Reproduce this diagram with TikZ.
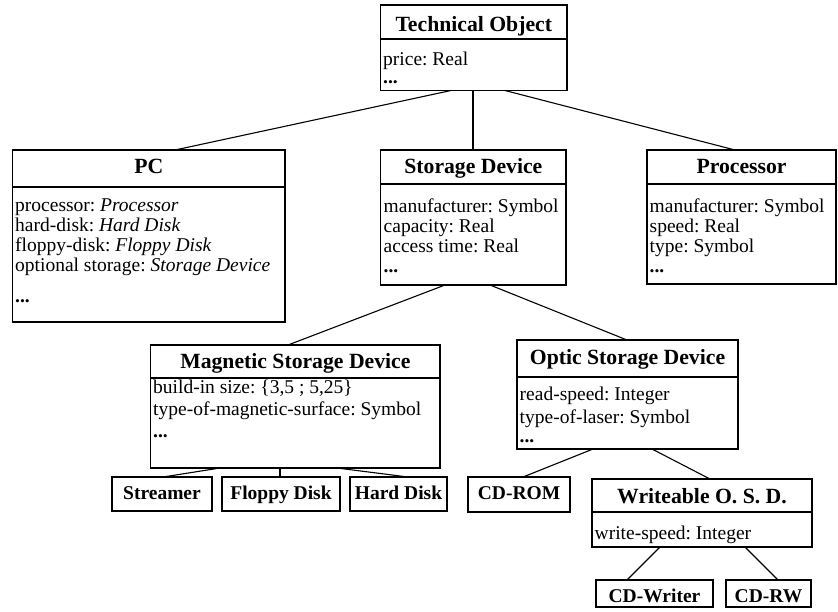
\documentclass[tikz,border=0pt]{standalone}
\usepackage{fontspec}
\setmainfont{Liberation Serif}
\usetikzlibrary{calc}
\frenchspacing
\tikzset{
  box/.style={draw, line width=1.2pt, inner sep=0pt, outer sep=0pt},
  divline/.style={line width=1.2pt},
  conn/.style={line width=1.1pt},
  ctitle/.style={inner sep=0pt, anchor=base, font=\fontsize{21.7}{24}\selectfont\bfseries},
  leaf/.style={inner sep=0pt, anchor=base, font=\fontsize{19.5}{22}\selectfont\bfseries},
  attr/.style={inner sep=0pt, anchor=base west, font=\fontsize{19.5}{20}\selectfont},
}
\begin{document}
\begin{tikzpicture}[x=1pt,y=-1pt]
\useasboundingbox (0,0) rectangle (838,611);

% Technical Object
\node[box, minimum width=186.5pt, minimum height=85.5pt] (to) at (473.75,47.75) {};
\draw[divline] (to.west |- 0,39) -- (to.east |- 0,39);
\node[ctitle] (to-t) at (473.75,31) {Technical Object};
\node[attr] (to-a1) at (383,65) {price: Real};
\node[attr] (to-a2) at (383,83) {\textbf{...}};

% PC
\node[box, minimum width=272.3pt, minimum height=172pt] (pc) at (148.85,236) {};
\draw[divline] (pc.west |- 0,187) -- (pc.east |- 0,187);
\node[ctitle] (pc-t) at (148.85,173) {PC};
\node[attr] (pc-a1) at (15,211) {processor: \textit{Processor}};
\node[attr] (pc-a2) at (15,231) {hard-disk: \textit{Hard Disk}};
\node[attr] (pc-a3) at (15,251) {floppy-disk: \textit{Floppy Disk}};
\node[attr] (pc-a4) at (15,271) {optional storage: \textit{Storage Device}};
\node[attr] (pc-a5) at (15,302) {\textbf{...}};

% Storage Device
\node[box, minimum width=185.3pt, minimum height=135pt] (sd) at (473.35,217.5) {};
\draw[divline] (sd.west |- 0,184) -- (sd.east |- 0,184);
\node[ctitle] (sd-t) at (473.35,173) {Storage Device};
\node[attr] (sd-a1) at (383.5,212) {manufacturer: Symbol};
\node[attr] (sd-a2) at (383.5,232) {capacity: Real};
\node[attr] (sd-a3) at (383.5,252) {access time: Real};
\node[attr] (sd-a4) at (383.5,272) {\textbf{...}};

% Processor
\node[box, minimum width=189pt, minimum height=134pt] (pr) at (741.5,217) {};
\draw[divline] (pr.west |- 0,184) -- (pr.east |- 0,184);
\node[ctitle] (pr-t) at (741.5,173) {Processor};
\node[attr] (pr-a1) at (649.5,212) {manufacturer: Symbol};
\node[attr] (pr-a2) at (649.5,232) {speed: Real};
\node[attr] (pr-a3) at (649.5,252) {type: Symbol};
\node[attr] (pr-a4) at (649.5,272) {\textbf{...}};

% Magnetic Storage Device
\node[box, minimum width=289.3pt, minimum height=123pt] (msd) at (295.35,406.5) {};
\draw[divline] (msd.west |- 0,378) -- (msd.east |- 0,378);
\node[ctitle] (msd-t) at (295.35,368) {Magnetic Storage Device};
\node[attr] (msd-a1) at (153,393) {build-in size: \{3,5 ; 5,25\}};
\node[attr] (msd-a2) at (153,415) {type-of-magnetic-surface: Symbol};
\node[attr] (msd-a3) at (153,437) {\textbf{...}};

% Optic Storage Device
\node[box, minimum width=221pt, minimum height=109pt] (osd) at (627.5,394.5) {};
\draw[divline] (osd.west |- 0,377) -- (osd.east |- 0,377);
\node[ctitle] (osd-t) at (627.5,364) {Optic Storage Device};
\node[attr] (osd-a1) at (519.5,400) {read-speed: Integer};
\node[attr] (osd-a2) at (519.5,423) {type-of-laser: Symbol};
\node[attr] (osd-a3) at (519.5,442) {\textbf{...}};

% Writeable O. S. D.
\node[box, minimum width=220pt, minimum height=68pt] (wosd) at (702,513) {};
\draw[divline] (wosd.west |- 0,512) -- (wosd.east |- 0,512);
\node[ctitle] (wosd-t) at (702,503) {Writeable O. S. D.};
\node[attr] (wosd-a1) at (594.5,539) {write-speed: Integer};

% leaves
\node[box, minimum width=100pt, minimum height=34pt] (st) at (162,494) {};
\node[leaf] (st-t) at (162,499) {Streamer};
\node[box, minimum width=118pt, minimum height=34pt] (fd) at (281,494) {};
\node[leaf] (fd-t) at (281,499) {Floppy Disk};
\node[box, minimum width=97pt, minimum height=34pt] (hd) at (398.5,494) {};
\node[leaf] (hd-t) at (398.5,499) {Hard Disk};
\node[box, minimum width=102pt, minimum height=35pt] (cdrom) at (519,494.5) {};
\node[leaf] (cdrom-t) at (519,499) {CD-ROM};
\node[box, minimum width=117pt, minimum height=27pt] (cdw) at (654.5,593.5) {};
\node[leaf] (cdw-t) at (654.5,602) {CD-Writer};
\node[box, minimum width=85pt, minimum height=27pt] (cdrw) at (768.5,593.5) {};
\node[leaf] (cdrw-t) at (768.5,602) {CD-RW};

% connectors
\draw[conn] ($(to.south west)+(70.5,0)$) -- ($(pc.north west)+(162.3,0)$);
\draw[conn] ($(to.south west)+(92.5,0)$) -- ($(sd.north west)+(92.3,0)$);
\draw[conn] ($(to.south west)+(124.5,0)$) -- ($(pr.north west)+(88,0)$);
\draw[conn] ($(sd.south west)+(64.3,0)$) -- ($(msd.north west)+(137.3,0)$);
\draw[conn] ($(sd.south west)+(109.3,0)$) -- ($(osd.north west)+(110,0)$);
\draw[conn] ($(msd.south west)+(69.3,0)$) -- ($(st.north west)+(51,0)$);
\draw[conn] ($(msd.south west)+(129.3,0)$) -- ($(fd.north west)+(58,0)$);
\draw[conn] ($(msd.south west)+(186.3,0)$) -- ($(hd.north west)+(58,0)$);
\draw[conn] ($(osd.south west)+(76,0)$) -- ($(cdrom.north west)+(55,0)$);
\draw[conn] ($(osd.south west)+(135,0)$) -- ($(wosd.north west)+(118,0)$);
\draw[conn] ($(wosd.south west)+(68,0)$) -- ($(cdw.north west)+(31,0)$);
\draw[conn] ($(wosd.south west)+(153,0)$) -- ($(cdrw.north west)+(52,0)$);
\end{tikzpicture}
\end{document}
